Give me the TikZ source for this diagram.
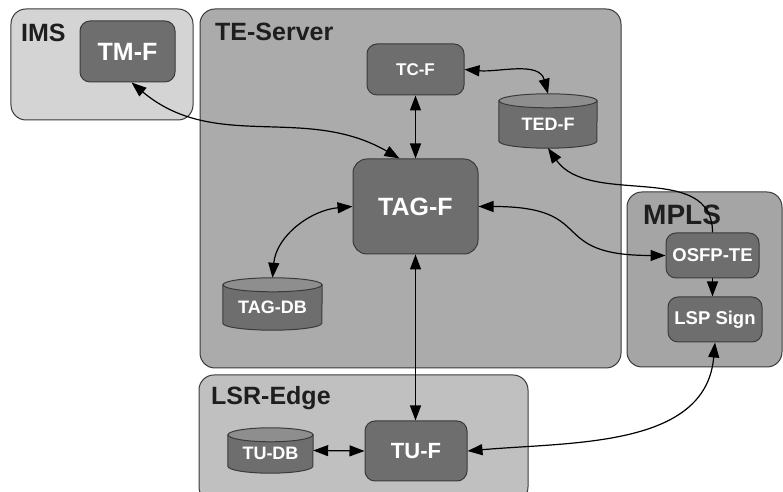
\documentclass[tikz,border=0pt]{standalone}
\usepackage{fontspec}
\setmainfont{Liberation Sans}
\usetikzlibrary{arrows.meta}
\pgfdeclarelayer{bg}
\pgfdeclarelayer{mid}
\pgfsetlayers{bg,mid,main}
\definecolor{imsfill}{HTML}{D4D4D4}
\definecolor{tefill}{HTML}{ABABAB}
\definecolor{mplsfill}{HTML}{A5A5A5}
\definecolor{lsrfill}{HTML}{C0C0C0}
\definecolor{nodegray}{HTML}{6E6E6E}
\definecolor{dbtop}{HTML}{8E8E8E}
\definecolor{edgegray}{HTML}{3A3A3A}
\definecolor{labeltext}{HTML}{1E1E1E}
\newcommand\mydbcyl[2]{%
  \filldraw[dbedge, fill=nodegray] ([yshift=-7bp]#1.north west) -- ([yshift=7bp]#1.south west)
    arc[start angle=180, end angle=360, x radius=#2bp, y radius=7bp]
    -- ([yshift=-7bp]#1.north east) -- cycle;
  \filldraw[dbedge, fill=dbtop] ([yshift=-7bp]#1.north) ellipse[x radius=#2bp, y radius=7bp];
}
\begin{document}
\begin{tikzpicture}[x=1bp,y=1bp,
  container/.style={draw=edgegray, line width=1bp, rounded corners=15bp, inner sep=0pt},
  grplabel/.style={text=labeltext, inner sep=0pt, anchor=base west, font=\bfseries\fontsize{25bp}{30bp}\selectfont},
  func/.style={draw=edgegray, fill=nodegray, line width=1bp, rounded corners=10bp, text=white, inner sep=0pt},
  dbnode/.style={draw=none, inner sep=0pt, text=white, text height=19bp, text depth=0pt,
    font=\bfseries\fontsize{18bp}{21bp}\selectfont},
  dbedge/.style={draw=edgegray, line width=1bp},
  conn/.style={draw=black, line width=1.2bp},
  both/.style={arrows={Triangle[length=15bp,width=11bp]-Triangle[length=15bp,width=11bp]}},
  one/.style={arrows={-Triangle[length=15bp,width=11bp]}}
]
\useasboundingbox (0,0) rectangle (783,492);
\clip (0,0) rectangle (783,492);

% containers
\begin{pgfonlayer}{bg}
\node[container, fill=imsfill, minimum width=182bp, minimum height=111bp] (ims) at (102,427.5) {};
\node[container, fill=tefill, minimum width=421bp, minimum height=359bp] (te) at (410.5,303.5) {};
\node[container, fill=mplsfill, minimum width=155bp, minimum height=175bp] (mpls) at (704.5,212.5) {};
\node[container, fill=lsrfill, minimum width=329bp, minimum height=127bp] (lsr) at (363.5,53.5) {};
\end{pgfonlayer}

\node[grplabel] (imslbl) at (21,450) {IMS};
\node[grplabel] (telbl) at (215,451) {TE-Server};
\node[grplabel, font=\bfseries\fontsize{28bp}{32bp}\selectfont] (mplslbl) at (643,267) {MPLS};
\node[grplabel] (lsrlbl) at (211,87) {LSR-Edge};

% functional nodes
\node[func, minimum width=95bp, minimum height=61bp, font=\bfseries\fontsize{25bp}{30bp}\selectfont] (tmf) at (127.5,440.5) {TM-F};
\node[func, minimum width=97bp, minimum height=51bp, font=\bfseries\fontsize{17bp}{20bp}\selectfont] (tcf) at (415.5,422.5) {TC-F};
\node[func, rounded corners=14bp, minimum width=125bp, minimum height=95bp, font=\bfseries\fontsize{25bp}{30bp}\selectfont] (tagf) at (415.5,285.5) {TAG-F};
\node[func, minimum width=93bp, minimum height=45bp, font=\bfseries\fontsize{18.5bp}{22bp}\selectfont] (osfp) at (712.5,236.5) {OSFP-TE};
\node[func, minimum width=94bp, minimum height=45bp, font=\bfseries\fontsize{18.5bp}{22bp}\selectfont] (lsp) at (715,172.5) {LSP Sign};
\node[func, minimum width=102bp, minimum height=60bp, font=\bfseries\fontsize{22bp}{26bp}\selectfont] (tuf) at (416,41) {TU-F};

% databases
\node[dbnode, minimum width=98bp, minimum height=54bp] (tedf) at (548,371) {TED-F};
\node[dbnode, minimum width=99bp, minimum height=52bp] (tagdb) at (272.5,188) {TAG-DB};
\node[dbnode, minimum width=85bp, minimum height=45bp] (tudb) at (270.5,41.5) {TU-DB};
\begin{pgfonlayer}{mid}
  \mydbcyl{tedf}{49}
  \mydbcyl{tagdb}{49.5}
  \mydbcyl{tudb}{42.5}
\end{pgfonlayer}

% connectors
\draw[conn,both] ([xshift=4bp]tmf.south) to[out=-40,in=150] ([xshift=-16bp]tagf.north);
\draw[conn,both] (tcf.south) -- (tagf.north);
\draw[conn,both] (tcf.east) to[out=-5,in=105] (tedf.north);
\draw[conn,both] (tagf.west) to[out=185,in=85] (tagdb.north);
\draw[conn,both] (tagf.east) to[out=0,in=180,looseness=1.6] (osfp.west);
\draw[conn,one] (osfp.north) to[out=90,in=-55] (tedf.south);
\draw[conn,one] (osfp.south) -- (osfp.south |- lsp.north);
\draw[conn,both] (tagf.south) -- (tagf.south |- tuf.north);
\draw[conn,both] (tudb.east) -- (tuf.west);
\draw[conn,both] (tuf.east) to[out=5,in=-95] (lsp.south);
\end{tikzpicture}
\end{document}
